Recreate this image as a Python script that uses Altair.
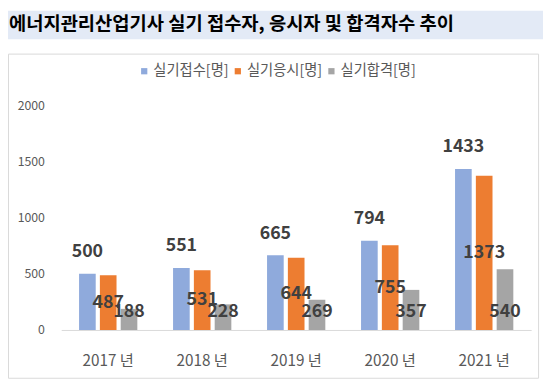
import altair as alt
import pandas as pd

years = ["2017 년", "2018 년", "2019 년", "2020 년", "2021 년"]
series = ["실기접수[명]", "실기응시[명]", "실기합격[명]"]
applied = [500, 551, 665, 794, 1433]
taken = [487, 531, 644, 755, 1373]
passed = [188, 228, 269, 357, 540]
colors = ["#8FAADC", "#ED7D31", "#A5A5A5"]
title_text = "에너지관리산업기사 실기 접수자, 응시자 및 합격자수 추이"

rows = []
for i, y in enumerate(years):
    for s, vals in zip(series, [applied, taken, passed]):
        rows.append({"year": y, "series": s, "value": vals[i]})
df = pd.DataFrame(rows)
one = pd.DataFrame({"k": [0]})

FONT = "Noto Sans CJK KR"

x_enc = alt.X("year:N", sort=years, title=None,
              scale=alt.Scale(paddingInner=0.38, paddingOuter=0.19),
              axis=alt.Axis(labelAngle=0, ticks=False, domainColor="#D9D9D9",
                            labelFontSize=15.5, labelColor="#595959",
                            labelPadding=24, labelFont=FONT))
xo_enc = alt.XOffset("series:N", sort=series,
                     scale=alt.Scale(domain=series, paddingInner=0.2, paddingOuter=0))
y_scale = alt.Scale(domain=[0, 2000])

band = alt.Chart(one).mark_rect(color="#E3EAF6").encode(
    x=alt.value(-54), x2=alt.value(489), y=alt.value(-96), y2=alt.value(-67))
title = alt.Chart(one).mark_text(
    text=title_text, align="left", baseline="middle", font=FONT,
    fontSize=19, fontWeight="bold", color="#000000").encode(
    x=alt.value(-53), y=alt.value(-82))
border = alt.Chart(one).mark_rect(fillOpacity=0, stroke="#D9D9D9", strokeWidth=1).encode(
    x=alt.value(-53.5), x2=alt.value(484.5), y=alt.value(-52), y2=alt.value(277))

bars = alt.Chart(df).mark_bar().encode(
    x=x_enc,
    xOffset=xo_enc,
    y=alt.Y("value:Q", scale=y_scale, title=None,
            axis=alt.Axis(values=[0, 500, 1000, 1500, 2000], format="d", grid=False,
                          domain=False, ticks=False, labelFontSize=12.5,
                          labelColor="#595959", labelPadding=17, labelFont=FONT)),
    color=alt.Color("series:N", sort=series,
                    scale=alt.Scale(domain=series, range=colors),
                    legend=alt.Legend(title=None, orient="none", legendX=77, legendY=-42,
                                      direction="horizontal", symbolType="square",
                                      symbolSize=40, symbolStrokeWidth=0,
                                      labelFontSize=14.5, labelColor="#595959",
                                      labelFont=FONT, columnPadding=1, labelOffset=2)),
)

lab_style = dict(font=FONT, fontSize=18, fontWeight="bold", color="#404040")

lab_top = alt.Chart(df).transform_filter(alt.datum.series == series[0]).mark_text(
    baseline="middle", dy=-22, **lab_style).encode(
    x=alt.X("year:N", sort=years), xOffset=xo_enc,
    y=alt.Y("value:Q", scale=y_scale), text="value:Q")

lab_mid = alt.Chart(df).transform_filter(alt.datum.series == series[1]).transform_calculate(
    ypos="datum.value / 2").mark_text(baseline="middle", **lab_style).encode(
    x=alt.X("year:N", sort=years), xOffset=xo_enc,
    y=alt.Y("ypos:Q", scale=y_scale), text="value:Q")

lab_base = alt.Chart(df).transform_filter(alt.datum.series == series[2]).transform_calculate(
    ypos="155").mark_text(baseline="middle", **lab_style).encode(
    x=alt.X("year:N", sort=years), xOffset=xo_enc,
    y=alt.Y("ypos:Q", scale=y_scale), text="value:Q")

chart = alt.layer(band, title, border, bars, lab_top, lab_mid, lab_base).properties(
    width=477, height=228,
    autosize=alt.AutoSizeParams(type="none"),
    padding={"left": 54, "top": 96, "right": 12, "bottom": 50},
    background="white",
).configure_view(stroke=None)

chart.save("out.html", embed_options={"renderer": "svg", "actions": False})
